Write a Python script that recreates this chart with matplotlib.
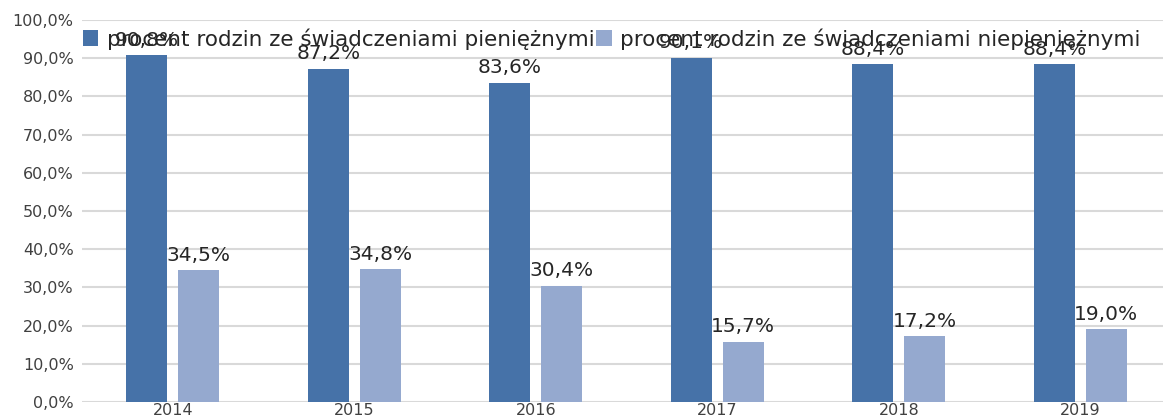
import numpy as np
import matplotlib.pyplot as plt
from matplotlib.ticker import FuncFormatter

years = ['2014', '2015', '2016', '2017', '2018', '2019']
pieniezne = [90.8, 87.2, 83.6, 90.1, 88.4, 88.4]
niepieniezne = [34.5, 34.8, 30.4, 15.7, 17.2, 19.0]
labels = ['procent rodzin ze świadczeniami pieniężnymi',
          'procent rodzin ze świadczeniami niepieniężnymi']

dark = '#4672a8'
light = '#95a9cf'
txt = '#262626'

fig = plt.figure(figsize=(11.63, 4.18), dpi=100)
ax = fig.add_axes([82 / 1163, 1 - 402 / 418, 1 - 82 / 1163, (402 - 20) / 418])

x = np.arange(len(years))
w = 0.226
off = 0.143
b1 = ax.bar(x - off, pieniezne, w, color=dark, label=labels[0], zorder=3)
b2 = ax.bar(x + off, niepieniezne, w, color=light, label=labels[1], zorder=3)

for bars, vals in ((b1, pieniezne), (b2, niepieniezne)):
    for r, v in zip(bars, vals):
        ax.annotate(f'{v:.1f}%'.replace('.', ','), (r.get_x() + r.get_width() / 2, v),
                    xytext=(0, 4), textcoords='offset points', ha='center', va='bottom',
                    fontsize=14.5, color=txt, zorder=4)

ax.set_ylim(0, 100)
ax.set_xlim(-0.5, (1163 - 82) / 181.5 - 0.5)
ax.set_yticks(np.arange(0, 101, 10))
ax.yaxis.set_major_formatter(FuncFormatter(lambda v, p: f'{v:.1f}%'.replace('.', ',')))
ax.set_xticks(x)
ax.set_xticklabels(years)
ax.tick_params(axis='y', length=0, labelsize=11.5, labelcolor='#404040', pad=6)
ax.tick_params(axis='x', length=0, labelsize=11.5, labelcolor='#404040', pad=1)
ax.grid(axis='y', color='#d9d9d9', linewidth=1.5, zorder=0)
for s in ax.spines.values():
    s.set_visible(False)

fig.legend(loc='upper left', bbox_to_anchor=(83 / 1163, 1 - 28 / 418), ncol=2,
           frameon=False, fontsize=15.5, handlelength=0.7, handleheight=0.7,
           handletextpad=0.4, columnspacing=0.1, borderaxespad=0, borderpad=0,
           labelcolor=txt)

fig.savefig('out.png', dpi=100)
